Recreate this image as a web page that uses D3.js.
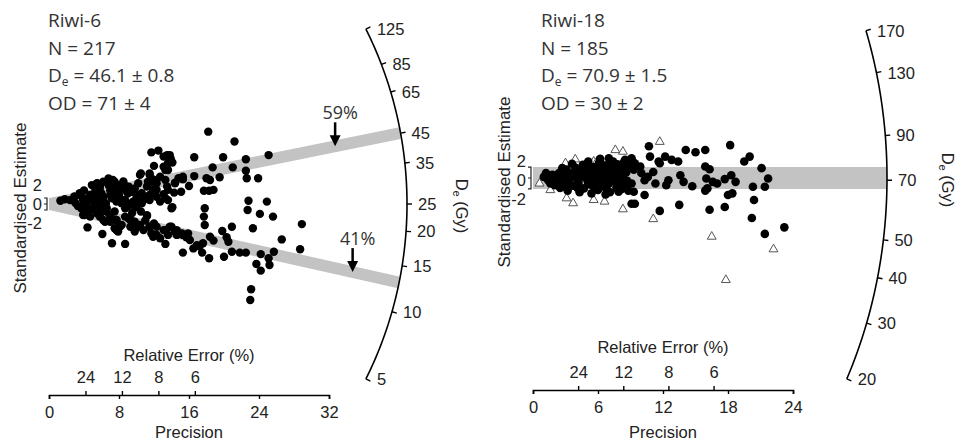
<!DOCTYPE html>
<html>
<head>
<meta charset="utf-8">
<script src="https://cdn.jsdelivr.net/npm/d3@7"></script>
<style>
body { margin: 0; background: #fff; }
svg { display: block; }
</style>
</head>
<body>
<svg id="chart" width="964" height="444"></svg>
<script>

// Riwi-6 : [precision, standardised estimate]
var riwi6Points = [
 [18.2,24.1],[21.2,20.8],[25.1,16.3],[16.6,15.6],[19.9,15.6],[22.5,14.9],[18.7,12.2],[21.0,12.2],[22.5,11.1],[22.6,8.6],
 [23.9,8.6],[19.5,8.9],[18.0,8.6],[18.4,8.0],[16.6,9.3],[15.3,8.2],[16.0,6.0],[15.1,4.1],[17.7,4.4],[18.3,4.4],
 [18.8,4.7],[22.8,1.1],[24.9,0.8],[22.7,-2.0],[24.1,-3.3],[25.6,-4.2],[17.8,-1.4],[17.7,-4.2],[17.8,-7.0],[28.9,-6.7],
 [23.3,-8.1],[20.9,-7.6],[19.8,-9.0],[26.6,-11.8],[28.7,-15.1],[18.4,-10.9],[18.8,-12.2],[20.3,-11.1],[20.5,-12.6],[15.3,-16.2],
 [16.5,-14.8],[17.2,-14.2],[17.5,-16.2],[18.3,-18.1],[20.0,-17.6],[20.9,-15.9],[21.8,-16.2],[22.5,-16.2],[24.2,-16.7],[25.7,-15.9],
 [23.7,-20.0],[25.1,-18.1],[25.2,-20.3],[24.2,-22.2],[23.1,-28.4],[23.0,-32.0],[13.3,-13.3],[8.7,-13.3],[7.2,-13.1],[6.1,-10.0],
 [4.4,-7.8],[14.1,-1.1],[11.2,-4.0],[15.2,-9.8],[15.7,-11.1],[14.6,-10.3],
 [11.7,17.2],[12.5,17.8],[13.5,16.3],[13.9,15.2],[14.1,13.8],[12.0,12.7],[13.1,12.4],[13.6,11.3],[10.5,10.2],[11.5,9.7],
 [11.9,8.2],[11.3,7.4],[12.2,6.9],[13.3,8.0],[14.4,7.1],[13.5,5.8],[12.3,4.7],[13.1,3.3],[11.5,3.0],[10.8,1.3],
 [14.3,3.8],[13.6,1.3],[12.7,0.8],[10.2,6.9],[9.8,5.2],
 [1.3,1.1],[1.8,1.6],[2.4,1.3],[3.0,0.4],[3.5,3.0],[3.9,1.3],[4.3,-0.3],[3.7,-1.4],[4.7,-2.0],[4.1,-3.7],
 [4.9,6.3],[5.3,4.7],[5.8,5.8],[6.2,7.4],[6.8,6.3],[7.3,8.0],[7.9,6.3],[8.3,4.7],[7.7,4.1],[8.9,5.2],
 [4.7,3.0],[5.5,2.4],[6.2,1.3],[5.6,-0.3],[6.6,-1.4],[5.1,0.8],[7.2,1.9],[7.7,0.8],[8.5,1.3],[9.1,-0.3],
 [9.6,0.8],[8.7,-1.4],[10.0,3.0],[9.5,4.1],[10.6,3.6],
 [7.0,-4.2],[7.7,-5.3],[8.3,-7.0],[9.1,-4.8],[9.6,-5.9],[10.2,-7.6],[10.8,-8.7],[11.5,-7.6],[11.7,-9.8],[12.3,-10.3],
 [13.1,-8.7],[13.6,-10.3],[14.0,-7.6],[14.4,-9.2],[6.4,-5.9],[5.8,-4.2],[5.5,-3.1],[7.7,-8.7],[8.1,-7.6],[9.8,-9.2],
 [9.3,-7.6],[16.1,-12.0],[16.9,-13.7],[17.6,-13.1],[15.9,-9.8],[12.7,-11.4],[11.9,-10.9],
 [2.9,2.5],[3.3,-0.7],[4.5,1.8],[5.0,-1.5],[6.0,3.5],[6.5,0.2],[7.0,4.5],[7.5,-2.5],[8.0,2.8],[9.0,3.5],
 [5.5,6.8],[6.8,8.5],[8.5,7.5],[4.0,4.5],[9.5,-3.0],[10.5,-2.5],[11.0,-5.5],[12.0,-6.5],[10.0,-1.0],
 [3.5,3.6],[3.9,1.9],[3.7,-0.9],[4.3,-2.6],[4.7,-4.2],[3.9,-3.7],[5.5,6.9],[5.8,5.2],[5.3,3.6],[4.7,1.3],
 [5.5,0.2],[6.0,-1.4],[5.8,-3.7],[6.6,-2.6],[6.4,0.2],[6.2,2.4],[7.0,8.0],[7.5,7.4],[7.2,5.8],[7.5,3.6],
 [7.0,3.0],[8.5,6.9],[9.1,5.8],[9.3,4.1],[8.7,1.3],[8.3,0.2],[8.9,-0.9],[9.5,-0.3],[10.0,1.9],[9.8,0.8],
 [10.4,9.7],[11.5,10.2],[11.7,7.4],[11.2,5.8],[11.9,4.7],[12.3,6.9],[12.7,9.1],[13.3,11.3],[13.6,13.6],[13.1,15.8],
 [13.8,16.3],[14.0,14.1],[11.5,1.3],[12.3,2.4],[11.0,2.4],[10.6,0.2],[13.3,1.9],[13.6,4.7],[14.4,6.9],[14.8,8.6],
 [15.3,9.1],[14.0,-1.4],[6.2,-5.3],[7.0,-5.9],[7.7,-5.3],[8.1,-7.0],[8.7,-4.2],[9.3,-5.3],[9.8,-5.9],[10.4,-7.0],
 [11.2,-3.7],[11.5,-7.6],[12.3,-7.6],[13.3,-8.7],[13.8,-7.6],[14.6,-8.7],[15.3,-10.3],[7.9,-9.2],[7.5,-8.1]
];
var riwi6DeTicks = [125, 85, 65, 45, 35, 25, 20, 15, 10, 5];
var riwi6PrecTicks = [0, 8, 16, 24, 32];
var riwi6Components = [45, 13];
var riwi6Proportions = ["59%", "41%"];
var riwi6Stats = ["Riwi-6", "N = 217", "46.1 ± 0.8", "OD = 71 ± 4"];

// Riwi-18 : [precision, standardised estimate]
var riwi18Points = [
 [10.7,5.8],[14.1,5.1],[15.0,4.7],[15.9,5.1],[18.2,6.0],[10.8,3.9],[11.6,3.0],[12.2,3.9],[12.8,3.3],[13.4,3.0],
 [11.7,2.7],[9.1,3.6],[9.4,2.7],[9.3,1.5],[9.9,2.1],[10.0,0.9],[10.6,0.2],[10.3,-0.4],[11.1,1.1],[11.3,-1.0],
 [9.1,-1.0],[9.3,-2.5],[10.3,-3.1],[9.1,-4.7],[9.4,-4.7],[11.7,-6.0],[13.5,-4.9],[13.6,0.5],[13.9,-0.7],[12.5,-0.4],
 [12.3,-1.3],[14.7,-1.5],[15.9,2.1],[16.3,1.6],[16.0,-0.1],[16.6,-0.7],[17.0,-1.0],[15.9,-2.3],[16.1,-1.9],[16.3,-5.8],
 [17.7,-5.3],[18.3,0.5],[18.7,-0.7],[17.7,-0.2],[18.0,-3.1],[18.4,-2.8],[19.5,3.0],[20.0,3.9],[21.1,1.8],[21.7,-0.1],
 [21.4,-1.6],[20.3,-1.6],[20.4,-4.0],[20.2,-7.3],[21.4,-10.2],[23.2,-9.0],[8.5,3.3],[8.9,2.2],
 [1.0,0.2],[1.4,-0.4],[1.8,0.6],[2.1,-0.2],[2.4,0.9],[2.6,-0.9],[2.9,0.3],[3.1,1.5],[3.3,-0.5],[3.5,0.8],
 [3.7,-1.4],[3.9,1.9],[4.0,0.0],[4.2,-0.8],[4.4,1.2],[4.6,2.4],[4.7,-1.9],[4.9,0.5],[5.0,-0.3],[5.2,1.6],
 [5.3,-1.2],[5.5,0.2],[5.6,2.0],[5.8,-0.7],[5.9,1.0],[6.0,-2.2],[6.1,2.8],[6.3,0.4],[6.4,-1.5],[6.5,1.5],
 [6.6,-0.2],[6.8,2.3],[6.9,0.9],[7.0,-1.0],[7.1,-2.6],[7.2,1.8],[7.3,0.2],[7.4,3.0],[7.5,-0.6],[7.6,1.2],
 [7.7,-1.8],[7.8,2.5],[7.9,0.5],[8.0,-0.9],[8.1,1.7],[8.2,-2.0],[8.3,0.0],[8.4,2.9],[8.5,-1.3],[8.6,1.0],
 [2.0,-1.3],[3.0,-1.6],[4.3,-2.6],[5.1,3.0],[6.2,3.5],[7.0,3.6],[5.4,-2.8],[6.7,-3.0],[3.6,2.6],[2.7,1.8],
 [1.2,0.9],[1.6,-1.0],[2.3,0.0],[2.5,-1.8],[2.8,1.0],[3.2,-2.3],[3.4,0.2],[3.8,0.9],[4.1,-1.8],[4.5,0.3],
 [4.8,1.6],[5.1,-1.0],[5.4,0.9],[5.7,-1.9],[6.0,0.0],[6.2,1.9],[6.5,-0.8],[6.8,-2.0],[6.9,1.4],[7.2,-0.3],
 [7.5,2.2],[7.7,0.0],[7.9,-2.5],[8.1,0.8],[8.3,1.9],[8.7,-0.5],[8.8,-2.3],[6.3,2.6],[5.0,2.6],[4.2,-0.2],
 [3.0,-0.3],[5.8,0.6]
];
var riwi18Rejected = [
 [3.0,2.7],[3.9,3.4],[5.6,3.0],[5.9,3.0],[7.6,5.1],[8.3,4.8],[0.6,-1.0],[1.6,-2.2],[3.1,-3.7],[3.7,-4.6],
 [5.6,-4.0],[6.6,-4.3],[8.3,-5.7],[11.1,-7.5],[11.7,6.6],[16.5,-10.7],[22.2,-13.0],[17.8,-18.6]
];
var riwi18DeTicks = [170, 130, 90, 70, 50, 40, 30, 20];
var riwi18PrecTicks = [0, 6, 12, 18, 24];
var riwi18Components = [70.9];
var riwi18Proportions = [];
var riwi18Stats = ["Riwi-18", "N = 185", "70.9 ± 1.5", "OD = 30 ± 2"];

var relErrTicks = [24, 12, 8, 6];

var svg = d3.select("#chart");
var axisFont = "'Liberation Sans', Arial, sans-serif";
var axisSize = 16.5;
var textFont = "'Open Sans', sans-serif";

function drawPanel(p) {
    var x = d3.scaleLinear().domain([0, p.precMax]).range([p.ox, p.ox + p.axisLen]);
    var ky = p.K * (p.axisLen / p.precMax);
    var y = d3.scaleLinear().domain([0, 1]).range([p.oy, p.oy - ky]);
    var lnRef = Math.log(p.ref);
    var g = svg.append("g");

    // where a ray of a given De value meets the arc
    function arcPt(v) {
        var s = (y(0) - y(Math.log(v) - lnRef)) / (x(1) - x(0));
        var dx = 1 / Math.sqrt(1 / (p.rx * p.rx) + s * s / (p.ry * p.ry));
        return [p.ox + dx, p.oy - s * dx];
    }

    // component bands
    p.components.forEach(function(c) {
        var lr = Math.log(c) - lnRef;
        var pEnd = x.invert(arcPt(c)[0]);
        var poly = [[0, 2], [pEnd, lr * pEnd + 2], [pEnd, lr * pEnd - 2], [0, -2]];
        g.append("path")
            .attr("d", d3.line().x(function(d) { return x(d[0]); }).y(function(d) { return y(d[1]); })(poly) + "Z")
            .attr("fill", "#c3c3c3");
    });

    // rejected aliquots
    if (p.rejected) {
        g.selectAll(".tri").data(p.rejected).enter().append("path")
            .attr("d", d3.symbol().type(d3.symbolTriangle).size(34))
            .attr("transform", function(d) { return "translate(" + x(d[0]) + "," + y(d[1]) + ")"; })
            .attr("fill", "#fff").attr("stroke", "#555").attr("stroke-width", 1);
    }

    g.selectAll(".dot").data(p.points).enter().append("circle")
        .attr("cx", function(d) { return x(d[0]); })
        .attr("cy", function(d) { return y(d[1]); })
        .attr("r", p.dotR)
        .attr("fill", "#000");

    // De arc
    var lnMin = Math.log(d3.min(p.deTicks)), lnMax = Math.log(d3.max(p.deTicks));
    var arcVals = d3.range(0, 1.0001, 0.01).map(function(t) { return Math.exp(lnMax - t * (lnMax - lnMin)); });
    g.append("path")
        .attr("d", d3.line()(arcVals.map(arcPt)))
        .attr("fill", "none").attr("stroke", "#000").attr("stroke-width", 1.6);

    p.deTicks.forEach(function(v) {
        var pt = arcPt(v);
        var nx = (pt[0] - p.ox) / (p.rx * p.rx), ny = (pt[1] - p.oy) / (p.ry * p.ry);
        var nl = Math.sqrt(nx * nx + ny * ny);
        g.append("line")
            .attr("x1", pt[0]).attr("y1", pt[1])
            .attr("x2", pt[0] + 5 * nx / nl).attr("y2", pt[1] + 5 * ny / nl)
            .attr("stroke", "#000").attr("stroke-width", 1.4);
        g.append("text")
            .attr("x", pt[0] + 11).attr("y", pt[1])
            .attr("dy", "0.36em")
            .attr("font-family", axisFont).attr("font-size", axisSize).attr("fill", "#222")
            .text(v);
    });

    var deLabel = g.append("text")
        .attr("transform", "translate(" + p.deLabelX + "," + (p.oy + 2) + ") rotate(90)")
        .attr("text-anchor", "middle").attr("dy", "0.36em")
        .attr("font-family", axisFont).attr("font-size", axisSize).attr("fill", "#222");
    deLabel.append("tspan").text("D");
    deLabel.append("tspan").attr("font-size", 11).attr("dy", 3).text("e");
    deLabel.append("tspan").attr("dy", -3).text(" (Gy)");

    // precision axis with relative error ticks on top
    var gx = g.append("g").attr("transform", "translate(0," + p.axisY + ")")
        .call(d3.axisBottom(x).tickValues(p.precTicks).tickSize(4).tickSizeOuter(4).tickPadding(7));
    var gr = g.append("g").attr("transform", "translate(0," + p.axisY + ")")
        .call(d3.axisTop(x).tickValues(relErrTicks.map(function(r) { return 100 / r; }))
            .tickFormat(function(v) { return Math.round(100 / v); }).tickSize(4).tickPadding(8));
    gr.select(".domain").remove();
    [gx, gr].forEach(function(a) {
        a.selectAll("text").attr("font-family", axisFont).attr("font-size", axisSize).attr("fill", "#222");
        a.selectAll("line").attr("stroke", "#000").attr("stroke-width", 1.4);
        a.select(".domain").attr("stroke", "#000").attr("stroke-width", 1.6);
    });

    var cx = p.ox + p.axisLen / 2;
    g.append("text").attr("x", cx).attr("y", p.relTitleY).attr("text-anchor", "middle")
        .attr("font-family", axisFont).attr("font-size", axisSize).attr("fill", "#222").text("Relative Error (%)");
    g.append("text").attr("x", cx).attr("y", p.precTitleY).attr("text-anchor", "middle")
        .attr("font-family", axisFont).attr("font-size", axisSize).attr("fill", "#222").text("Precision");

    // standardised estimate axis
    g.append("path")
        .attr("d", "M" + (p.ox - 5) + "," + y(2) + "H" + (p.ox - 2) + "V" + y(-2) + "H" + (p.ox - 5) +
                   "M" + (p.ox - 5) + "," + y(0) + "H" + (p.ox - 2))
        .attr("fill", "none").attr("stroke", "#222").attr("stroke-width", 1.2);
    [[2, -19], [0, 0], [-2, 19]].forEach(function(t) {
        g.append("text").attr("x", p.ox - 7).attr("y", p.oy + t[1] + p.yLabShift)
            .attr("dy", "0.36em").attr("text-anchor", "end")
            .attr("font-family", axisFont).attr("font-size", axisSize).attr("fill", "#222").text(t[0]);
    });
    g.append("text")
        .attr("transform", "translate(" + (p.ox - 29) + "," + (p.oy + 4) + ") rotate(-90)")
        .attr("text-anchor", "middle").attr("dy", "0.36em")
        .attr("font-family", axisFont).attr("font-size", 17).attr("fill", "#222")
        .text("Standardised Estimate");

    // proportion arrows
    p.proportions.forEach(function(lab, i) {
        var lr = Math.log(p.components[i]) - lnRef;
        var ap = p.arrowPrec[i];
        var tx = x(ap), ty = y(lr * ap);
        g.append("line").attr("x1", tx).attr("y1", ty - 24).attr("x2", tx).attr("y2", ty - 9)
            .attr("stroke", "#000").attr("stroke-width", 2.5);
        g.append("path")
            .attr("d", "M" + (tx - 5.5) + "," + (ty - 11) + "L" + (tx + 5.5) + "," + (ty - 11) + "L" + tx + "," + ty + "Z")
            .attr("fill", "#000");
        g.append("text").attr("x", tx + 5).attr("y", ty - 27).attr("text-anchor", "middle")
            .attr("font-family", textFont).attr("font-size", 18).attr("fill", "#333").text(lab);
    });

    // summary text
    p.stats.forEach(function(s, i) {
        var t = g.append("text").attr("x", p.textX).attr("y", 27 + i * 27.7)
            .attr("font-family", textFont).attr("font-size", 19).attr("fill", "#333");
        if (i == 2) {
            t.append("tspan").text("D");
            t.append("tspan").attr("font-size", 12).attr("dy", 4).text("e");
            t.append("tspan").attr("dy", -4).text(" = " + s);
        } else {
            t.text(s);
        }
    });
}

drawPanel({ points: riwi6Points, deTicks: riwi6DeTicks, precTicks: riwi6PrecTicks,
            components: riwi6Components, proportions: riwi6Proportions, stats: riwi6Stats,
            ref: 25, precMax: 32, ox: 49, oy: 204, axisLen: 280, K: 0.343,
            rx: 358, ry: 376, axisY: 395, relTitleY: 361, precTitleY: 438,
            deLabelX: 462, textX: 48, dotR: 4.2, yLabShift: 0, arrowPrec: [32.7, 34.7] });

drawPanel({ points: riwi18Points, rejected: riwi18Rejected, deTicks: riwi18DeTicks, precTicks: riwi18PrecTicks,
            components: riwi18Components, proportions: riwi18Proportions, stats: riwi18Stats,
            ref: 70.9, precMax: 24, ox: 533, oy: 178, axisLen: 260, K: 0.506,
            rx: 354, ry: 434, axisY: 390, relTitleY: 353, precTitleY: 438,
            deLabelX: 948, textX: 541, dotR: 4.3, yLabShift: 2, arrowPrec: [] });

</script>
</body>
</html>
